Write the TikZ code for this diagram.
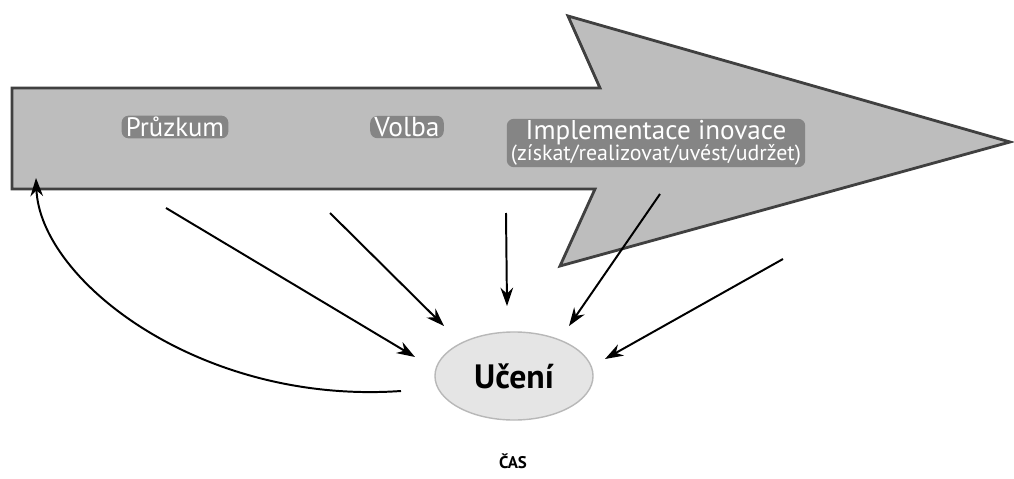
\documentclass[tikz,border=0pt]{standalone}
\usepackage{fontspec}
\setmainfont{PT Sans}
\usetikzlibrary{arrows.meta,shapes.geometric}
\tikzset{
  bigarrow/.style={fill=black!26,draw=black!75,line width=2pt,line join=miter},
  onarrow/.style={text=white,fill=black!48,rounded corners=5pt,inner xsep=3pt,inner ysep=1pt,align=center},
  conn/.style={line width=1.4pt,-{Stealth[length=13pt,width=9pt]}},
  learn/.style={ellipse,fill=black!10,draw=black!28,line width=1pt,minimum width=3.95cm,minimum height=2.2cm,inner sep=0pt},
}
\begin{document}
\begin{tikzpicture}[x=0.025cm,y=-0.025cm]
\useasboundingbox (0,0) rectangle (1014,479);
\fill[white] (0,0) rectangle (1014,479);
% big arrow
\draw[bigarrow] (12,88) -- (600,88) -- (568,16) -- (1010,142) -- (560,266) -- (595,189) -- (12,189) -- cycle;
% labels on the arrow
\node[onarrow,font=\fontsize{19}{22}\selectfont] (pruzkum) at (175,127) {Průzkum};
\node[onarrow,font=\fontsize{19.5}{22}\selectfont] (volba) at (407,127) {Volba};
\node[onarrow] (impl) at (656,143)
  {{\fontsize{19.3}{22}\selectfont Implementace inovace}\\[-1pt]
   {\fontsize{15.6}{18}\selectfont (získat/realizovat/uvést/udržet)}};
% learning ellipse
\node[learn,font=\fontsize{24}{27}\selectfont\bfseries] (uceni) at (514,376) {Učení};
\node[font=\fontsize{12}{14}\selectfont\bfseries] (cas) at (513,461) {ČAS};
% connectors
\coordinate (s1) at (166,208);  \coordinate (e1) at (415,357);
\coordinate (s2) at (330,213);  \coordinate (e2) at (444,326);
\coordinate (s3) at (506,213);  \coordinate (e3) at (507,306);
\coordinate (s4) at (660,194);  \coordinate (e4) at (569,326);
\coordinate (s5) at (783,259);  \coordinate (e5) at (605,359);
\coordinate (cs) at (401,391);  \coordinate (ce) at (36,178);
\draw[conn] (s1) -- (e1);
\draw[conn] (s2) -- (e2);
\draw[conn] (s3) -- (e3);
\draw[conn] (s4) -- (e4);
\draw[conn] (s5) -- (e5);
\draw[conn] (cs) .. controls (200,405) and (40,280) .. (ce);
\end{tikzpicture}
\end{document}
